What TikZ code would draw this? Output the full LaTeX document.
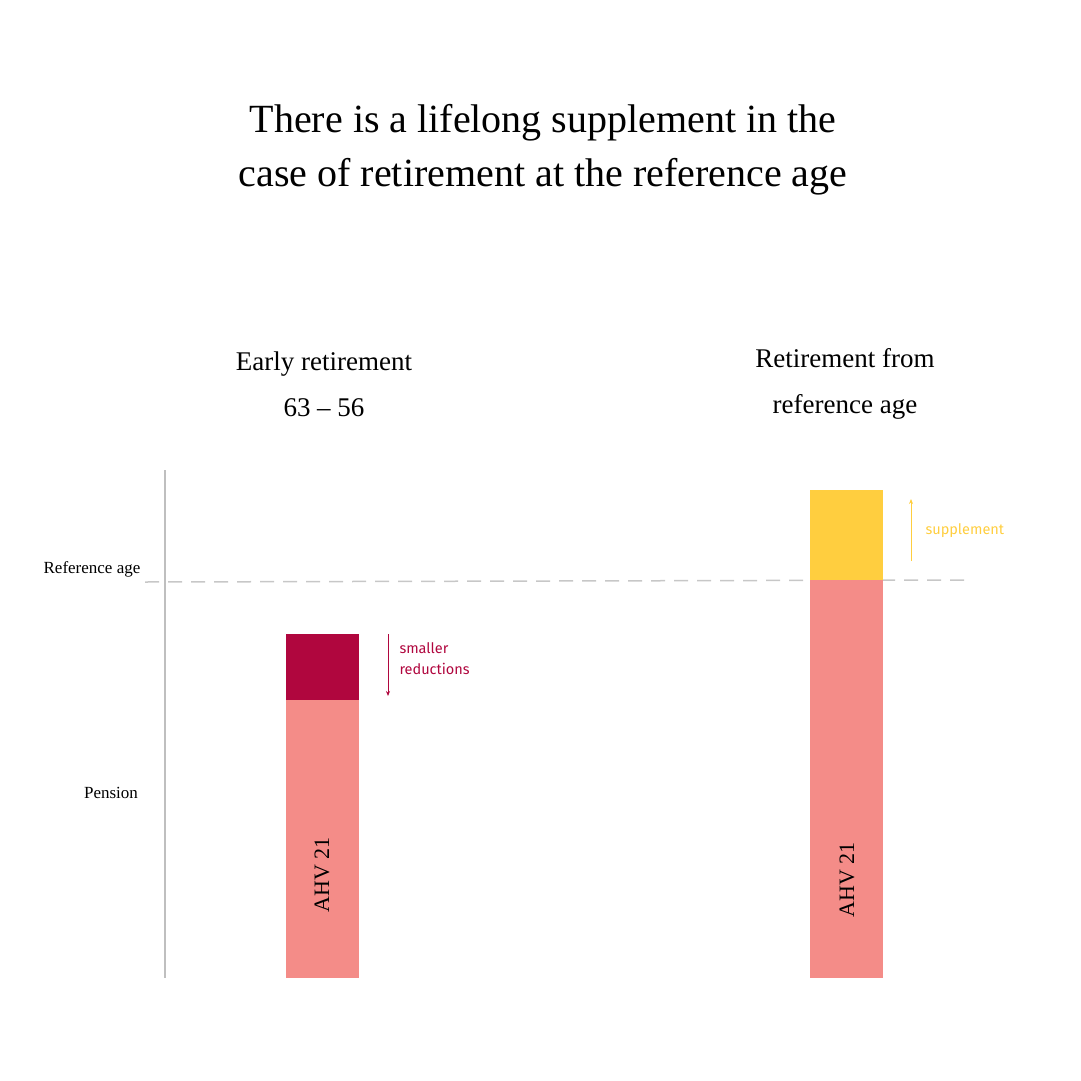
\documentclass[tikz,border=0pt]{standalone}
\usepackage{fontspec}
\usetikzlibrary{arrows.meta}
\setmainfont{Liberation Serif}
\newfontfamily\lab{Fira Sans}
\definecolor{pinkc}{HTML}{F48C88}
\definecolor{darkr}{HTML}{B0063E}
\definecolor{yel}{HTML}{FFCE3F}
\begin{document}
\begin{tikzpicture}[x=1pt,y=-1pt,
  ttl/.style={font=\fontsize{40}{54}\selectfont,align=center},
  sub/.style={font=\fontsize{27}{46}\selectfont,align=center},
  axl/.style={font=\fontsize{17}{20}\selectfont},
  sml/.style={font=\lab\fontsize{14.5}{21}\selectfont,align=left,anchor=west},
  bar/.style={inner sep=0pt,outer sep=0pt}]
\useasboundingbox (0,0) rectangle (1080,1081);
\node[ttl] (title) at (543,150) {There is a lifelong supplement in the\\case of retirement at the reference age};
\node[sub] (s1) at (324,384) {Early retirement\\63 -- 56};
\node[sub] (s2) at (845,384) {Retirement from\\reference age};
\draw[black!25,line width=1.2pt] (165,470) -- (165,978);
\draw[black!22,line width=1.5pt,dash pattern=on 14pt off 9pt] (145,582) -- (965,580);
\node[axl] (ra) at (92,569) {Reference age};
\node[axl] (pe) at (111,793) {Pension};
\fill[pinkc] (286,700) rectangle (359,978);
\fill[darkr] (286,634) rectangle (359,700);
\fill[pinkc] (810,580) rectangle (883,978);
\fill[yel] (810,490) rectangle (883,580);
\node[rotate=90,font=\fontsize{22}{24}\selectfont] (a1) at (322,875) {AHV 21};
\node[rotate=90,font=\fontsize{22}{24}\selectfont] (a2) at (847,880) {AHV 21};
\coordinate (d1) at (388,634); \coordinate (d2) at (388,696);
\draw[darkr,line width=0.8pt,-{Stealth[length=5pt,width=4pt]}] (d1) -- (d2);
\node[sml,text=darkr] (sr) at (396,659) {smaller\\reductions};
\coordinate (u1) at (911,561); \coordinate (u2) at (911,499);
\draw[yel,line width=0.8pt,-{Stealth[length=5pt,width=4pt]}] (u1) -- (u2);
\node[sml,text=yel] (su) at (922,531) {supplement};
\end{tikzpicture}
\end{document}
